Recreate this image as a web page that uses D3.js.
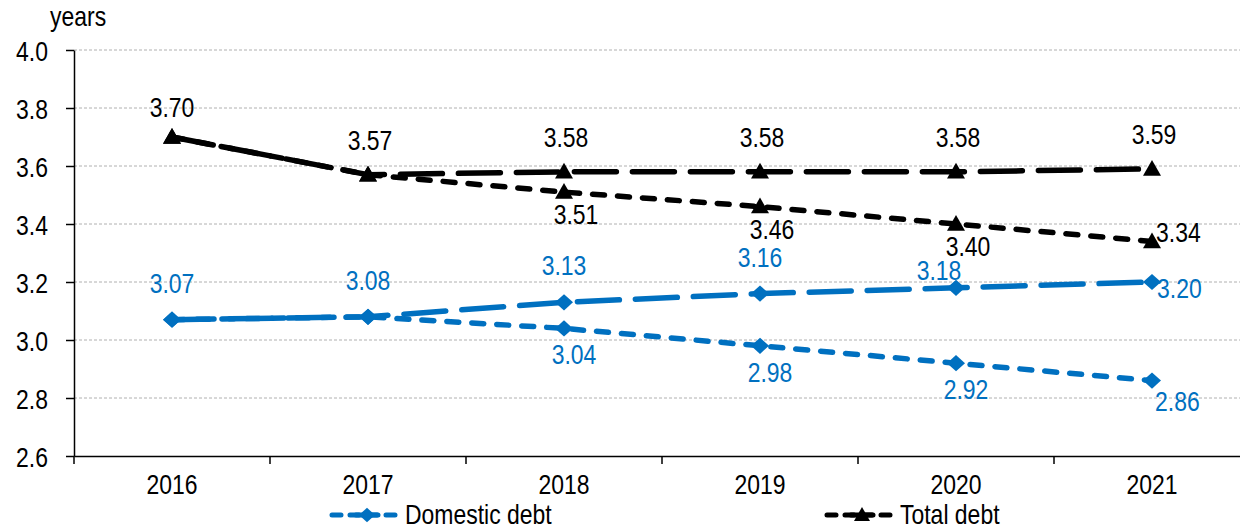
<!DOCTYPE html>
<html>
<head>
<meta charset="utf-8">
<script src="https://cdn.jsdelivr.net/npm/d3@7"></script>
<style>
  body { margin: 0; background: #fff; }
  text { font-family: "Liberation Sans", Arial, sans-serif; }
</style>
</head>
<body>
<div class="chart"></div>
<script>
// Average maturity chart
var svgWidth = 1240;
var svgHeight = 528;

// chart data
var years = ["2016", "2017", "2018", "2019", "2020", "2021"];
var domesticLong = [3.07, 3.08, 3.13, 3.16, 3.18, 3.20];
var domesticShort = [3.07, 3.08, 3.04, 2.98, 2.92, 2.86];
var totalLong = [3.70, 3.57, 3.58, 3.58, 3.58, 3.59];
var totalShort = [3.70, 3.57, 3.51, 3.46, 3.40, 3.34];
var yTicks = [2.6, 2.8, 3.0, 3.2, 3.4, 3.6, 3.8, 4.0];
var legendNames = ["Domestic debt", "Total debt"];

var blue = "#0070C0";
var black = "#000000";
var narrow = 0.82; // no narrow font installed, so squeeze horizontally

var margin = { top: 50, left: 74, bottom: 72 };
var plotRight = 1250;
var plotBottom = svgHeight - margin.bottom;

var svg = d3.select(".chart")
  .append("svg")
  .attr("width", svgWidth)
  .attr("height", svgHeight);

// move x/y into a transform so the text can be squeezed around its anchor
function squeeze(sel) {
  sel.each(function () {
    var t = d3.select(this);
    var tx = +t.attr("x") || 0;
    var ty = +t.attr("y") || 0;
    t.attr("x", 0).attr("y", 0)
      .attr("transform", `translate(${tx},${ty}) scale(${narrow},1)`);
  });
}

var x = d3.scaleBand()
  .domain(years)
  .range([margin.left, plotRight])
  .padding(0);

var y = d3.scaleLinear()
  .domain([2.6, 4.0])
  .range([plotBottom, margin.top]);

var cx = function (yr) { return x(yr) + x.bandwidth() / 2; };

// gridlines
svg.append("g")
  .selectAll("line")
  .data(yTicks.filter(d => d > 2.6))
  .enter()
  .append("line")
  .attr("x1", margin.left)
  .attr("x2", plotRight)
  .attr("y1", d => y(d))
  .attr("y2", d => y(d))
  .attr("stroke", "#b0b0b0")
  .attr("stroke-width", 1)
  .attr("stroke-dasharray", "3,2");

// y axis
var leftAxis = d3.axisLeft(y)
  .tickValues(yTicks)
  .tickSize(8)
  .tickSizeOuter(0)
  .tickFormat(d3.format(".1f"));

var yAxis = svg.append("g")
  .attr("transform", `translate(${margin.left},0)`)
  .call(leftAxis);
yAxis.select(".domain").attr("stroke", "#000").attr("stroke-width", 1.5);
yAxis.selectAll(".tick line").attr("stroke", "#000").attr("stroke-width", 1.5);
yAxis.selectAll("text")
  .attr("x", -26)
  .attr("dy", "0.36em")
  .style("font-size", "28px")
  .attr("fill", "#000")
  .call(squeeze);

// x axis (labels centred, ticks on category boundaries)
var bottomAxis = d3.axisBottom(x).tickSize(0).tickSizeOuter(0);
var xAxis = svg.append("g")
  .attr("transform", `translate(0,${plotBottom})`)
  .call(bottomAxis);
xAxis.select(".domain").attr("stroke", "#000").attr("stroke-width", 1.5);
xAxis.selectAll("text")
  .attr("y", 38)
  .attr("dy", 0)
  .style("font-size", "28px")
  .attr("fill", "#000")
  .call(squeeze);

svg.append("g")
  .selectAll("line")
  .data(years)
  .enter()
  .append("line")
  .attr("x1", d => x(d))
  .attr("x2", d => x(d))
  .attr("y1", plotBottom)
  .attr("y2", plotBottom + 8)
  .attr("stroke", "#000")
  .attr("stroke-width", 1.5);

// unit label
svg.append("text")
  .attr("x", 50)
  .attr("y", 26)
  .style("font-size", "28px")
  .text("years")
  .call(squeeze);

// marker shapes
function diamond(s) {
  return `M0,${-s * 0.9}L${s},0L0,${s * 0.9}L${-s},0Z`;
}
function triangle(s) {
  return `M0,${-s}L${s},${s * 0.75}L${-s},${s * 0.75}Z`;
}

var lineGen = d3.line()
  .x(d => cx(d.year))
  .y(d => y(d.value));

var series = [
  { key: "domShort", values: domesticShort, color: blue, dash: "12,13", marker: "diamond" },
  { key: "domLong", values: domesticLong, color: blue, dash: "42,16", marker: "diamond" },
  { key: "totShort", values: totalShort, color: black, dash: "12,13", marker: "triangle" },
  { key: "totLong", values: totalLong, color: black, dash: "42,16", marker: "triangle" }
];

series.forEach(function (s) {
  var pts = years.map((yr, i) => ({ year: yr, value: s.values[i] }));
  svg.append("path")
    .datum(pts)
    .attr("d", lineGen)
    .attr("fill", "none")
    .attr("stroke", s.color)
    .attr("stroke-width", 5.5)
    .attr("stroke-linecap", "round")
    .attr("stroke-dasharray", s.dash);

  svg.append("g")
    .selectAll("path")
    .data(pts)
    .enter()
    .append("path")
    .attr("transform", d => `translate(${cx(d.year)},${y(d.value)})`)
    .attr("d", s.marker === "diamond" ? diamond(9) : triangle(9))
    .attr("fill", s.color);
});

// data labels
function labelPlace(key, i) {
  var last = i === years.length - 1;
  if (key === "domLong") {
    if (last) return { dx: 5, dy: 16, anchor: "start" };
    if (i === 4) return { dx: -17, dy: -8, anchor: "middle" };
    return { dx: 0, dy: -27, anchor: "middle" };
  }
  if (key === "totLong") {
    if (i === 0) return { dx: 0, dy: -20, anchor: "middle" };
    return { dx: 2, dy: -25, anchor: "middle" };
  }
  if (key === "totShort") {
    if (last) return { dx: 4, dy: 1, anchor: "start" };
    return { dx: 12, dy: 32, anchor: "middle" };
  }
  // domShort
  if (last) return { dx: 3, dy: 30, anchor: "start" };
  return { dx: 10, dy: 36, anchor: "middle" };
}

series.forEach(function (s) {
  var idx = d3.range(years.length);
  if (s.key === "domShort" || s.key === "totShort") idx = idx.filter(i => i >= 2);
  svg.append("g")
    .selectAll("text")
    .data(idx)
    .enter()
    .append("text")
    .each(function (i) {
      var p = labelPlace(s.key, i);
      d3.select(this)
        .attr("x", cx(years[i]) + p.dx)
        .attr("y", y(s.values[i]) + p.dy)
        .attr("text-anchor", p.anchor);
    })
    .style("font-size", "28px")
    .attr("fill", s.color)
    .text(i => d3.format(".2f")(s.values[i]))
    .call(squeeze);
});

// legend
var legendItems = [
  { name: legendNames[0], color: blue, marker: "diamond", x0: 332 },
  { name: legendNames[1], color: black, marker: "triangle", x0: 827 }
];
var legend = svg.append("g").attr("transform", "translate(0,515)");
legendItems.forEach(function (d) {
  legend.append("line")
    .attr("x1", d.x0)
    .attr("x2", d.x0 + 66)
    .attr("y1", 0)
    .attr("y2", 0)
    .attr("stroke", d.color)
    .attr("stroke-width", 5)
    .attr("stroke-linecap", "round")
    .attr("stroke-dasharray", "9,9");
  legend.append("path")
    .attr("transform", `translate(${d.x0 + 35},0)`)
    .attr("d", d.marker === "diamond" ? diamond(8) : triangle(8))
    .attr("fill", d.color);
  legend.append("line")
    .attr("x1", d.x0 + 24)
    .attr("x2", d.x0 + 46)
    .attr("y1", 0)
    .attr("y2", 0)
    .attr("stroke", d.color)
    .attr("stroke-width", 5)
    .attr("stroke-linecap", "round");
  legend.append("text")
    .attr("x", d.x0 + 73)
    .attr("y", 9)
    .style("font-size", "28px")
    .attr("fill", "#000")
    .text(d.name)
    .call(squeeze);
});
</script>
</body>
</html>
